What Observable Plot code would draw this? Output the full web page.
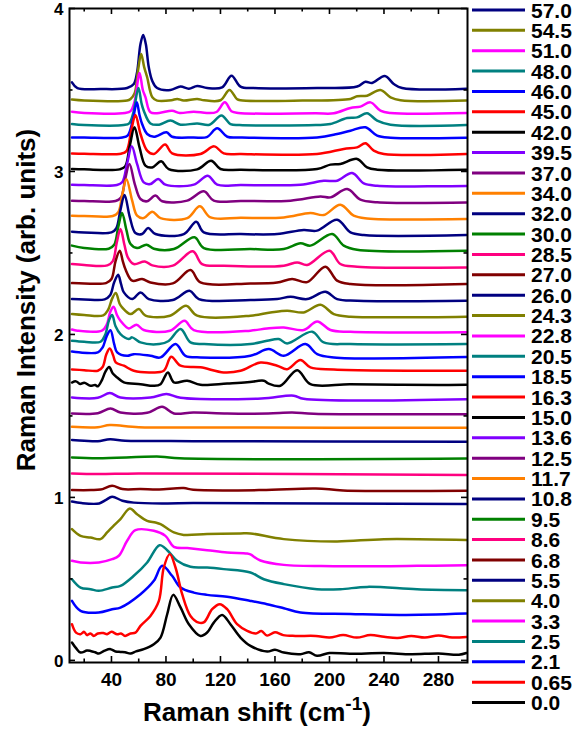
<!DOCTYPE html>
<html>
<head>
<meta charset="utf-8">
<script src="https://cdn.jsdelivr.net/npm/d3@7"></script>
<script src="https://cdn.jsdelivr.net/npm/@observablehq/plot@0.6"></script>
<style>
  html, body { margin: 0; padding: 0; background: #fff; }
  #wrap { position: relative; width: 577px; height: 734px; font-family: Arial, "Liberation Sans", sans-serif; }
  #overlay { position: absolute; left: 0; top: 0; pointer-events: none; }
</style>
</head>
<body>
<div id="wrap"></div>
<script>
// ---------------- DATA ----------------
// Pressures (GPa), top spectrum first
const pressures = ["57.0","54.5","51.0","48.0","46.0","45.0","42.0","39.5","37.0","34.0","32.0","30.0","28.5","27.0","26.0","24.3","22.8","20.5","18.5","16.3","15.0","13.6","12.5","11.7","10.8","9.5","8.6","6.8","5.5","4.0","3.3","2.5","2.1","0.65","0.0"];

// Spectra: [Raman shift (cm-1), intensity (arb. units, offset)]
const s57_0 = [[11,3.547],[15,3.512],[32,3.506],[51.5,3.512],[56.4,3.537],[58.8,3.609],[61.3,3.782],[63.3,3.838],[65.2,3.782],[67.4,3.639],[69.9,3.557],[73.5,3.512],[83.3,3.500],[90.7,3.521],[96.8,3.508],[102.9,3.525],[110.2,3.512],[121.2,3.516],[128.1,3.588],[134.7,3.521],[144.5,3.512],[190.9,3.512],[220.3,3.521],[226.4,3.551],[231.3,3.543],[240.6,3.586],[247.2,3.537],[253.3,3.512],[300.5,3.508]];
const s54_5 = [[11,3.441],[20,3.435],[51.5,3.435],[54,3.445],[57,3.48],[59.5,3.62],[61.8,3.721],[64,3.64],[66.2,3.578],[70,3.455],[73.5,3.435],[84,3.437],[88.2,3.445],[93,3.435],[102.9,3.445],[108,3.437],[120,3.437],[126.6,3.500],[132,3.445],[134.7,3.437],[180,3.435],[215.4,3.445],[220.3,3.461],[227.6,3.465],[237.4,3.500],[244.8,3.455],[252.1,3.437],[300.5,3.435]];
const s51_0 = [[11,3.367],[20,3.359],[50,3.359],[54,3.37],[57,3.43],[60.6,3.604],[63,3.50],[65,3.455],[68.6,3.363],[75,3.359],[84.5,3.373],[90,3.359],[100.4,3.367],[110,3.359],[117,3.365],[123.2,3.424],[128,3.37],[133,3.359],[190,3.357],[203.2,3.357],[215.4,3.390],[222.7,3.398],[230.1,3.424],[237.4,3.373],[244.8,3.359],[300.5,3.359]];
const s48_0 = [[11,3.291],[20,3.285],[49,3.285],[53,3.295],[56,3.36],[59.8,3.512],[62,3.42],[63.7,3.373],[68.6,3.295],[75,3.287],[83.3,3.312],[90.7,3.287],[102.9,3.295],[112,3.287],[120.7,3.343],[127.3,3.291],[134,3.285],[190,3.285],[200.7,3.291],[212.9,3.328],[220.3,3.332],[227.6,3.357],[235,3.312],[244.8,3.287],[300.5,3.285]];
const s46_0 = [[11,3.209],[20,3.209],[48,3.209],[52,3.222],[55.5,3.31],[58.6,3.424],[60.5,3.35],[62.5,3.291],[66.2,3.230],[71.1,3.213],[80.4,3.240],[84.5,3.213],[100.4,3.209],[110,3.211],[117.6,3.265],[125,3.213],[135,3.209],[190.9,3.209],[205.6,3.230],[215.4,3.250],[226.4,3.271],[235,3.220],[244.8,3.207],[300.5,3.207]];
const s45_0 = [[11,3.111],[20,3.109],[47,3.109],[51,3.125],[54.5,3.25],[57.6,3.347],[61.3,3.230],[66.2,3.128],[71.1,3.107],[79.4,3.165],[84.5,3.111],[105.3,3.107],[115.4,3.154],[122.4,3.111],[135,3.107],[190.9,3.107],[210.5,3.138],[220.3,3.148],[226.4,3.173],[232.5,3.128],[239.9,3.107],[300.5,3.107]];
const s42_0 = [[11,3.015],[20,3.013],[46,3.013],[50,3.03],[53.5,3.16],[56.9,3.271],[60.6,3.148],[64.9,3.036],[69.9,3.025],[76.5,3.062],[82,3.015],[102.9,3.013],[113.2,3.066],[120,3.015],[135,3.011],[190.9,3.015],[200.7,3.042],[208,3.046],[220.3,3.077],[227.6,3.025],[235,3.011],[300.5,3.011]];
const s39_5 = [[11,2.919],[20,2.917],[44,2.917],[48,2.935],[51.5,3.05],[54.9,3.154],[58.8,3.046],[63.7,2.933],[68.6,2.923],[74.3,2.954],[79.6,2.919],[100.4,2.919],[110.7,2.974],[117.6,2.919],[135,2.917],[178.7,2.919],[195.8,2.943],[205.6,2.943],[216.6,2.991],[225.2,2.927],[235,2.913],[300.5,2.911]];
const s37_0 = [[11,2.821],[20,2.819],[43,2.819],[47,2.84],[50,2.95],[53.2,3.046],[57.1,2.923],[61.3,2.831],[66.2,2.817],[72.3,2.852],[77.2,2.817],[95.6,2.821],[107.8,2.878],[115.1,2.821],[135,2.819],[171.4,2.821],[193.4,2.847],[200.7,2.841],[213,2.892],[222.7,2.827],[235,2.811],[300.5,2.809]];
const s34_0 = [[11,2.729],[20,2.727],[41,2.727],[45,2.75],[48,2.86],[51,2.952],[55.2,2.821],[58.8,2.729],[63.7,2.714],[69.9,2.753],[76,2.714],[95.6,2.714],[104.8,2.786],[112.7,2.718],[135,2.716],[166.5,2.718],[186,2.745],[195.8,2.733],[208,2.796],[217.8,2.729],[227.6,2.712],[300.5,2.708]];
const s32_0 = [[11,2.630],[20,2.626],[40,2.626],[43.5,2.65],[46.5,2.76],[49.6,2.856],[53.5,2.718],[57.6,2.622],[62.5,2.616],[66.9,2.653],[72.3,2.616],[93.1,2.616],[102.2,2.692],[107.8,2.626],[135,2.616],[161.6,2.616],[181.1,2.641],[190.9,2.637],[205.6,2.704],[215.4,2.626],[225.2,2.610],[300.5,2.610]];
const s30_0 = [[11,2.545],[20,2.530],[38,2.526],[42,2.55],[45,2.66],[47.8,2.745],[51,2.64],[54,2.555],[58.8,2.530],[65.7,2.551],[71.1,2.526],[85.8,2.524],[100.9,2.596],[107.8,2.530],[142,2.524],[166.5,2.524],[178.7,2.559],[186,2.545],[202,2.616],[210.5,2.545],[220.3,2.520],[300.5,2.514]];
const s28_5 = [[11,2.432],[20,2.426],[37,2.424],[41,2.45],[43.8,2.56],[46.6,2.647],[49.5,2.55],[52,2.473],[56.4,2.432],[64.5,2.448],[70,2.424],[85,2.422],[99.7,2.510],[106.5,2.432],[122.4,2.422],[166.5,2.422],[176.3,2.442],[183.6,2.426],[200,2.514],[208,2.432],[220.3,2.416],[300.5,2.411]];
const s27_0 = [[11,2.315],[20,2.313],[36,2.315],[40,2.34],[43,2.45],[46.1,2.514],[48.3,2.45],[50.2,2.401],[55.2,2.330],[62.5,2.340],[68.6,2.319],[85,2.313],[98,2.395],[105.3,2.319],[142,2.313],[161.6,2.319],[172.6,2.340],[183.6,2.321],[197,2.416],[205.6,2.330],[215.4,2.309],[300.5,2.309]];
const s26_0 = [[11,2.217],[20,2.215],[35,2.215],[39,2.24],[42,2.32],[44.9,2.366],[47,2.31],[49.1,2.258],[55.2,2.217],[61.3,2.258],[67.4,2.217],[85,2.211],[97.3,2.268],[104.1,2.217],[142,2.211],[161.6,2.217],[171.4,2.231],[183.6,2.217],[197,2.262],[205.6,2.217],[220.3,2.207],[300.5,2.207]];
const s24_3 = [[11,2.125],[20,2.119],[34,2.117],[37.5,2.15],[40.5,2.22],[43.2,2.255],[45.9,2.19],[47.8,2.166],[54,2.125],[60.1,2.156],[65,2.115],[83,2.115],[94.8,2.176],[102.9,2.115],[142,2.115],[156.7,2.135],[168.9,2.146],[181.1,2.135],[193.4,2.182],[203.2,2.125],[215.4,2.109],[252,2.105],[300.5,2.109]];
const s22_8 = [[11,2.030],[15,2.023],[33,2.023],[36.5,2.06],[39.2,2.14],[41.6,2.170],[44,2.12],[46.6,2.084],[52.7,2.037],[58.4,2.060],[63.7,2.027],[83,2.023],[93.6,2.084],[100.4,2.027],[142,2.023],[154.2,2.037],[166.5,2.043],[181.1,2.027],[191,2.080],[200.7,2.027],[215.4,2.016],[300.5,2.013]];
const s20_5 = [[11,1.961],[20,1.955],[32,1.955],[35.5,2.0],[38.3,2.09],[40.5,2.120],[43,2.05],[46.6,2.002],[52.7,1.972],[55.2,1.982],[61.3,1.951],[75,1.941],[82,1.96],[90.7,2.033],[98,1.951],[108,1.941],[142,1.941],[154.2,1.961],[162.8,1.972],[168.9,1.945],[187.3,2.017],[195.8,1.951],[215.4,1.941],[300.5,1.941]];
const s18_5 = [[11,1.895],[16,1.89],[30,1.890],[33.5,1.92],[36.5,1.99],[39.3,2.026],[42,1.94],[44.2,1.890],[51.5,1.869],[56.4,1.879],[68.6,1.869],[76,1.859],[87,1.941],[94.3,1.869],[105.3,1.859],[142,1.869],[155.5,1.910],[166.5,1.869],[182.4,1.941],[191,1.879],[203.2,1.859],[300.5,1.861]];
const s16_3 = [[11,1.785],[20,1.781],[30,1.777],[33.5,1.80],[36.3,1.88],[38.8,1.914],[41.3,1.87],[43.1,1.828],[49.1,1.808],[56.4,1.777],[68.6,1.767],[78.4,1.777],[83.8,1.863],[90.7,1.808],[105.3,1.798],[122.4,1.767],[134.7,1.777],[149.4,1.828],[161.6,1.808],[168.9,1.787],[178.7,1.843],[186,1.798],[203.2,1.785],[300.5,1.777]];
const s15_0 = [[11,1.705],[14,1.712],[17,1.696],[20,1.704],[24.6,1.685],[28,1.690],[30,1.682],[33,1.72],[35.5,1.77],[38.3,1.800],[41,1.76],[44.2,1.736],[49.1,1.706],[61.3,1.695],[71.1,1.685],[76,1.695],[81.4,1.767],[85.8,1.706],[95.6,1.716],[105.3,1.691],[124.9,1.699],[139.6,1.706],[151.8,1.716],[155,1.70],[164,1.685],[176.3,1.781],[186,1.695],[215,1.695],[250,1.692],[280,1.690],[300.5,1.691]];
const s13_6 = [[11,1.613],[30,1.611],[38.8,1.640],[46.6,1.613],[68.6,1.613],[80.4,1.634],[90.7,1.611],[150,1.607],[173.8,1.624],[181,1.605],[300.5,1.603]];
const s12_5 = [[11,1.515],[30,1.517],[39.3,1.546],[46.6,1.521],[66.2,1.519],[77.2,1.556],[85.8,1.515],[100,1.521],[124.9,1.515],[155,1.515],[172.6,1.521],[188.4,1.513],[300.5,1.511]];
const s11_7 = [[11,1.433],[30,1.431],[38.8,1.444],[60,1.431],[120,1.429],[300.5,1.427]];
const s10_8 = [[11,1.352],[20,1.348],[30,1.345],[39,1.357],[50,1.347],[76,1.346],[100,1.345],[300.5,1.341]];
const s9_5 = [[11,1.245],[30,1.240],[76,1.250],[90,1.240],[300.5,1.239]];
const s8_6 = [[11,1.147],[30,1.143],[60,1.147],[300.5,1.137]];
const s6_8 = [[11,1.045],[25,1.045],[32,1.048],[40.5,1.071],[48,1.051],[61.3,1.051],[75,1.049],[93,1.057],[100,1.047],[150,1.045],[190,1.055],[210,1.043],[300.5,1.041]];
const s5_5 = [[11,0.975],[18,0.965],[31,0.963],[36,0.985],[40.5,1.004],[48,0.980],[56.4,0.968],[80,0.963],[100,0.965],[300.5,0.959]];
const s4_0 = [[11,0.805],[17.3,0.764],[24.6,0.754],[31.9,0.744],[36.8,0.785],[42,0.83],[46.6,0.867],[53.5,0.932],[58.8,0.897],[66.2,0.856],[72.3,0.846],[76,0.836],[85.8,0.785],[93,0.770],[110.2,0.775],[134.7,0.779],[142,0.779],[166.5,0.744],[205.6,0.730],[239.9,0.744],[300.5,0.738]];
const s3_3 = [[11,0.611],[17.3,0.601],[30.7,0.601],[40.5,0.621],[45.4,0.642],[51.5,0.734],[57.6,0.799],[71.1,0.795],[79.6,0.764],[85.8,0.697],[95.6,0.689],[110.2,0.676],[124.9,0.662],[139.6,0.656],[142,0.650],[149.3,0.613],[166.5,0.586],[203.2,0.578],[264.3,0.580],[300.5,0.584]];
const s2_5 = [[11,0.498],[17.3,0.447],[24.6,0.437],[30.7,0.427],[40.5,0.447],[46.6,0.457],[56.4,0.519],[66.2,0.601],[75.3,0.707],[80.9,0.676],[88.2,0.611],[98,0.574],[110.2,0.570],[122.4,0.560],[142,0.539],[151.8,0.498],[166.5,0.468],[190.9,0.437],[208,0.437],[227.6,0.451],[264.3,0.437],[300.5,0.431]];
const s2_1 = [[11,0.365],[17.3,0.304],[30.7,0.294],[40.5,0.314],[46.6,0.324],[61.3,0.406],[71.1,0.488],[77.2,0.580],[84.5,0.519],[90.7,0.447],[100.4,0.416],[110.2,0.402],[124.9,0.390],[142,0.365],[154.2,0.345],[166.5,0.320],[178.7,0.294],[215.4,0.285],[252.1,0.279],[300.5,0.288]];
const s0_65 = [[11,0.222],[14,0.17],[17.3,0.161],[20,0.175],[22,0.155],[24.6,0.165],[27,0.15],[30,0.165],[34,0.168],[36.8,0.161],[40,0.175],[44.2,0.160],[47,0.165],[50,0.15],[54,0.165],[57.6,0.17],[61.3,0.212],[68.6,0.273],[74.8,0.365],[78.4,0.570],[82.8,0.652],[87,0.570],[91.9,0.406],[98,0.273],[104.1,0.232],[108,0.235],[113.9,0.314],[119.5,0.345],[124.9,0.314],[132.2,0.222],[139.6,0.181],[146,0.165],[150,0.18],[154.2,0.152],[160,0.172],[166,0.155],[175,0.15],[190,0.15],[200,0.14],[210,0.155],[220,0.14],[230,0.155],[240,0.145],[250,0.138],[260,0.15],[270,0.14],[280,0.152],[290,0.14],[300.5,0.144]];
const s0_0 = [[11,0.110],[14,0.075],[17.3,0.048],[22,0.06],[24.6,0.058],[28,0.05],[30.7,0.042],[35,0.06],[39.3,0.069],[43,0.055],[46.6,0.052],[50,0.05],[54,0.042],[58,0.055],[63.7,0.069],[71.1,0.099],[76,0.140],[80.9,0.283],[85.3,0.402],[90.7,0.325],[96.8,0.222],[105.3,0.150],[110.2,0.171],[115.1,0.232],[121.2,0.279],[127.3,0.222],[134.7,0.140],[142,0.089],[154.3,0.054],[160,0.065],[166.5,0.048],[178.7,0.038],[185,0.05],[190.9,0.028],[200,0.045],[215,0.04],[240,0.045],[260,0.038],[280,0.042],[295,0.035],[300.5,0.045]];

const spectra = [s57_0,s54_5,s51_0,s48_0,s46_0,s45_0,s42_0,s39_5,s37_0,s34_0,s32_0,s30_0,s28_5,s27_0,s26_0,s24_3,s22_8,s20_5,s18_5,s16_3,s15_0,s13_6,s12_5,s11_7,s10_8,s9_5,s8_6,s6_8,s5_5,s4_0,s3_3,s2_5,s2_1,s0_65,s0_0];

// Tick values
const xMajorTicks = [40, 80, 120, 160, 200, 240, 280];
const xMinorTicks = [20, 60, 100, 140, 180, 220, 260];
const yMajorTicks = [0, 1, 2, 3, 4];
const yMinorTicks = [0.5, 1.5, 2.5, 3.5];

// ---------------- STYLE ----------------
const palette = {navy:"#000080", olive:"#808000", magenta:"#ff00ff", teal:"#008080", blue:"#0000ff", red:"#ff0000", black:"#000000", violet:"#8000ff", purple:"#800080", orange:"#ff8000", green:"#008000", pink:"#ff0080", darkred:"#800000"};
const seriesColors = ["navy","olive","magenta","teal","blue","red","black","violet","purple","orange","navy","green","pink","darkred","navy","olive","magenta","teal","blue","red","black","violet","purple","orange","navy","green","pink","darkred","navy","olive","magenta","teal","blue","red","black"].map(k => palette[k]);

const W = 577, H = 734;
const mL = 69, mR = 110, mT = 8, mB = 72;
const xDom = [9.2, 301.3], yDom = [-0.013, 4];
const pxPerX = (W - mL - mR) / (xDom[1] - xDom[0]);
const pxPerY = (H - mT - mB) / (yDom[1] - yDom[0]);
const majLen = 6, minLen = 3.5;

const marks = [];
spectra.forEach((s, i) => {
  marks.push(Plot.line(s, {x: d => d[0], y: d => d[1], stroke: seriesColors[i], strokeWidth: 2.5, curve: "catmull-rom", strokeLinejoin: "round"}));
});
// inward ticks (bottom/top/left/right)
const tickStyle = {stroke: "black", strokeWidth: 1.6};
marks.push(Plot.ruleX(xMajorTicks, {x: d => d, y1: yDom[0], y2: yDom[0] + majLen / pxPerY, ...tickStyle}));
marks.push(Plot.ruleX(xMinorTicks, {x: d => d, y1: yDom[0], y2: yDom[0] + minLen / pxPerY, ...tickStyle}));
marks.push(Plot.ruleX(xMajorTicks, {x: d => d, y1: yDom[1] - majLen / pxPerY, y2: yDom[1], ...tickStyle}));
marks.push(Plot.ruleX(xMinorTicks, {x: d => d, y1: yDom[1] - minLen / pxPerY, y2: yDom[1], ...tickStyle}));
marks.push(Plot.ruleY(yMajorTicks, {y: d => d, x1: xDom[0], x2: xDom[0] + majLen / pxPerX, ...tickStyle}));
marks.push(Plot.ruleY(yMinorTicks, {y: d => d, x1: xDom[0], x2: xDom[0] + minLen / pxPerX, ...tickStyle}));
marks.push(Plot.ruleY(yMajorTicks, {y: d => d, x1: xDom[1] - majLen / pxPerX, x2: xDom[1], ...tickStyle}));
marks.push(Plot.ruleY(yMinorTicks, {y: d => d, x1: xDom[1] - minLen / pxPerX, x2: xDom[1], ...tickStyle}));
marks.push(Plot.frame({stroke: "black", strokeWidth: 2}));
marks.push(Plot.axisX({ticks: xMajorTicks, tickSize: 0, tickPadding: 10, fontSize: 19, fontWeight: "bold", label: null}));
marks.push(Plot.axisY({ticks: yMajorTicks, tickSize: 0, tickPadding: 6, fontSize: 17, fontWeight: "bold", label: null, tickFormat: d3.format("d"), dy: 1}));

const chart = Plot.plot({
  width: W, height: H,
  marginLeft: mL, marginRight: mR, marginTop: mT, marginBottom: mB,
  x: {domain: xDom},
  y: {domain: yDom},
  style: {fontFamily: "Arial, 'Liberation Sans', sans-serif", color: "black", background: "white", overflow: "visible"},
  marks
});
const wrap = document.getElementById("wrap");
wrap.appendChild(chart);

// ---------------- TITLES & LEGEND (overlay) ----------------
const svg = d3.select(wrap).append("svg").attr("id", "overlay").attr("width", W).attr("height", H)
  .style("font-family", "Arial, 'Liberation Sans', sans-serif").style("font-weight", "bold");

svg.append("text").attr("transform", "translate(35,300) rotate(-90)").attr("text-anchor", "middle")
  .attr("font-size", 26).text("Raman Intensity (arb. units)");

const xt = svg.append("text").attr("x", 257).attr("y", 721).attr("text-anchor", "middle").attr("font-size", 26);
xt.append("tspan").text("Raman shift (cm");
xt.append("tspan").attr("font-size", 19).attr("dy", -11).text("-1");
xt.append("tspan").attr("dy", 11).text(")");

const legY0 = 10, legStep = 20.37;
pressures.forEach((p, i) => {
  const y = legY0 + i * legStep;
  svg.append("line").attr("x1", 472).attr("x2", 525).attr("y1", y).attr("y2", y)
    .attr("stroke", seriesColors[i]).attr("stroke-width", 3);
  svg.append("text").attr("x", 531).attr("y", y).attr("dy", "0.36em").attr("font-size", 21).text(p);
});
</script>
</body>
</html>
